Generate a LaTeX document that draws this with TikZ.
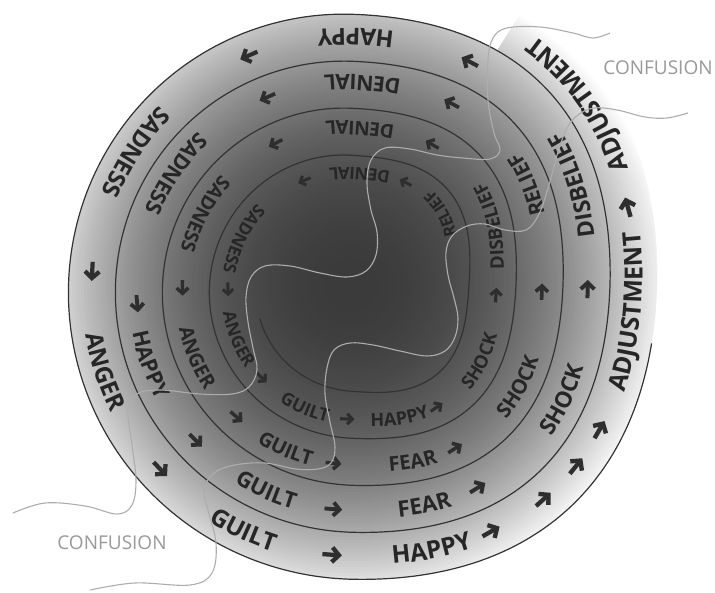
\documentclass[tikz,border=0pt]{standalone}
\usepackage{fontspec}
\setmainfont{Open Sans}
\usetikzlibrary{arrows.meta,decorations.text}

\newcommand{\wordfont}[1]{\fontsize{#1}{#1}\selectfont\bfseries}

\tikzset{
  spiralline/.style={line width=1.2pt, black!80},
  flowarrow/.style={-{Straight Barb[length=7pt,width=15pt,scale=#1]}, line width=4.4pt*#1, black!82},
  confusionline/.style={line width=1.1pt, black!32},
  confusionlabel/.style={font=\fontsize{19}{19}\selectfont, text=black!40, inner sep=0pt}
}

\begin{document}
\begin{tikzpicture}[x=1pt, y=1pt,
    declare function={
      rl(\a)=306+0.130556*\a+12*(cos(\a)>0)*sin(2*\a)^2;
      rt(\a)=rl(\a)-23.5-0.004*\a;
    }]
  \useasboundingbox (-351,-308) rectangle (364,285);
  \coordinate (c) at (0,0);

  % Shaded disc, cut at the outer turn
  \begin{scope}
    \clip plot[domain=58:-302, samples=120, smooth] (\x:{rl(\x)}) -- cycle;
    \foreach \r in {321,318,...,3} {
      \pgfmathsetmacro{\g}{max(0,77*(1-(\r/321)^2.2))}
      \fill[black!\g] (c) circle (\r);
    }
  \end{scope}

  % Spiral line
  \draw[spiralline] plot[domain=-11:-1600, samples=500, smooth] (\x:{rl(\x)});

  % Words along the spiral (angle / word)
  \foreach \a/\w in {38/ADJUSTMENT, -5.6/ADJUSTMENT, -74/HAPPY, -114/GUILT, -161/ANGER,
      -212/SADNESS, -271/HAPPY, -337/DISBELIEF, -388/SHOCK, -433/FEAR, -473/GUILT,
      -519/HAPPY, -573/SADNESS, -633/DENIAL, -692/RELIEF, -751/SHOCK, -793/FEAR,
      -833/GUILT, -876/ANGER, -927/SADNESS, -993/DENIAL, -1060/DISBELIEF, -1111/SHOCK,
      -1154/HAPPY, -1194/GUILT, -1237/ANGER, -1286/SADNESS, -1355/DENIAL, -1405/RELIEF} {
    \pgfmathsetmacro{\wsize}{25+0.006*\a}
    \pgfmathsetmacro{\wrad}{rt(\a)}
    \pgfmathsetmacro{\wspan}{90*(100/\wrad)}
    \pgfmathsetmacro{\wlo}{\a-\wspan}
    \pgfmathsetmacro{\whi}{\a+\wspan}
    \path[decorate, decoration={text along path, text align=center, text color=black!85,
        text/.expanded={|\noexpand\wordfont{\wsize}|\w}}]
      plot[domain=\wlo:\whi, samples=40, smooth] (\x:{rt(\x)+0.357*\wsize});
  }

  % Arrows between the words
  \foreach \a in {15.7, -30.2, -38.8, -48.1, -60.4, -94, -136, -183, -246, -298,
      -361, -418, -454.5, -495, -535, -606, -659, -722, -777.5, -815.6, -851, -899,
      -962, -1020, -1084, -1135, -1171.6, -1214, -1258, -1326, -1378} {
    \pgfmathsetmacro{\asc}{1+0.00024*\a}
    \pgfmathsetmacro{\ar}{rt(\a)}
    \pgfmathsetmacro{\ad}{10*\asc/\ar*57.3}
    \draw[flowarrow=\asc] ({\a-\ad}:\ar) -- ({\a+\ad}:\ar);
  }

  % Confusion channel, in picture pixels
  \begin{scope}[shift={(-351,285)}, yscale=-1]
    \draw[confusionline] plot[smooth, tension=0.6] coordinates {(610,33) (593,38) (573,33)
      (540,27) (507,28) (493,38) (488,60) (488,100) (494,133) (500,150) (490,159) (463,158)
      (437,155) (410,149) (385,148) (371,160) (367,183) (371,210) (377,232) (376,255)
      (366,271) (347,277) (320,273) (290,266) (265,266) (251,277) (246,297) (248,322)
      (253,348) (257,370) (249,387) (232,394) (200,394) (160,390) (137,394) (128,410)
      (132,445) (136,480) (132,505) (117,514) (85,506) (45,503) (13,513)};
    \draw[confusionline] plot[smooth, tension=0.6] coordinates {(688,113) (667,118) (645,117)
      (617,110) (594,108) (578,115) (567,128) (558,152) (549,185) (539,214) (526,230)
      (505,230) (485,224) (467,226) (452,236) (446,252) (448,275) (454,298) (458,318)
      (455,337) (445,351) (427,356) (400,351) (373,345) (350,343) (334,350) (327,368)
      (325,394) (330,422) (335,447) (331,463) (318,469) (296,469) (265,463) (235,465)
      (214,473) (204,490) (208,510) (216,543) (212,573) (190,585) (135,583) (90,590)};
    \node[confusionlabel] (confusionA) at (658,68) {CONFUSION};
    \node[confusionlabel] (confusionB) at (112,543) {CONFUSION};
  \end{scope}
\end{tikzpicture}
\end{document}
